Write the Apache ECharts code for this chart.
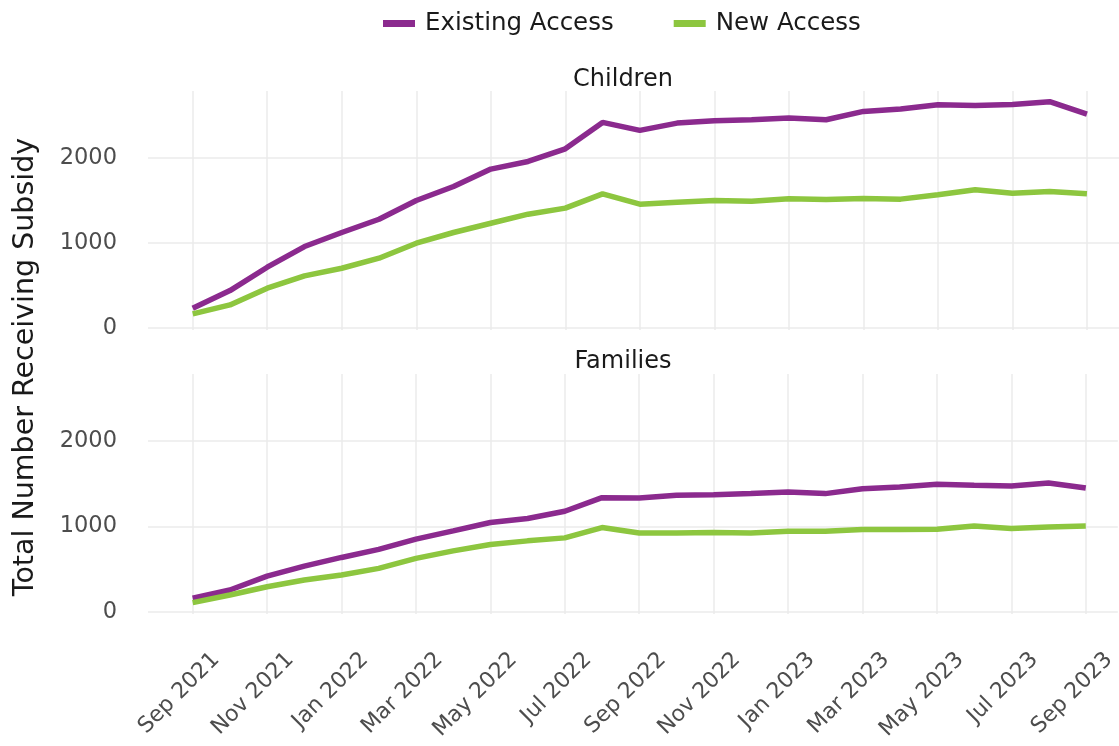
<!DOCTYPE html>
<html>
<head>
<meta charset="utf-8">
<script src="https://cdn.jsdelivr.net/npm/echarts@6/dist/echarts.min.js"></script>
<style>
  html, body { margin: 0; padding: 0; background: #fff; }
  #main { width: 1119px; height: 746px; }
</style>
</head>
<body>
<div id="main"></div>
<script>
// monthly, Sep 2021 .. Sep 2023
const months = ['Sep 2021','Oct 2021','Nov 2021','Dec 2021','Jan 2022','Feb 2022','Mar 2022','Apr 2022',
    'May 2022','Jun 2022','Jul 2022','Aug 2022','Sep 2022','Oct 2022','Nov 2022','Dec 2022',
    'Jan 2023','Feb 2023','Mar 2023','Apr 2023','May 2023','Jun 2023','Jul 2023','Aug 2023','Sep 2023'];

const childrenExisting = [232, 439, 714, 957, 1122, 1278, 1498, 1663, 1867, 1957, 2106, 2416, 2322,
    2408, 2435, 2447, 2467, 2447, 2545, 2573, 2624, 2616, 2627, 2659, 2514];
const childrenNew = [165, 271, 467, 612, 702, 820, 996, 1122, 1231, 1337, 1408, 1576, 1455,
    1478, 1498, 1490, 1518, 1510, 1522, 1514, 1565, 1624, 1584, 1604, 1576];

const familiesExisting = [160, 257, 420, 537, 638, 732, 852, 949, 1047, 1093, 1179, 1338, 1334,
    1365, 1373, 1385, 1404, 1385, 1443, 1462, 1494, 1482, 1474, 1509, 1450];
const familiesNew = [109, 198, 295, 373, 432, 510, 627, 715, 790, 832, 867, 988, 925,
    925, 930, 925, 945, 945, 965, 965, 968, 1007, 977, 995, 1007];

const xTicks = [0, 2, 4, 6, 8, 10, 12, 14, 16, 18, 20, 22, 24];
const yTicks = [0, 1000, 2000];

const purple = '#8b2a8e';
const green = '#8dc63f';
const font = 'DejaVu Sans';

const toPairs = arr => arr.map((v, i) => [i, v]);

function xAxisFor(gridIndex, showLabels) {
    return {
        type: 'value',
        gridIndex: gridIndex,
        min: -1.2,
        max: 24.86,
        axisLine: { show: false },
        axisTick: { show: false, customValues: xTicks },
        splitLine: { show: true, lineStyle: { color: '#ebebeb', width: 1.5 } },
        axisLabel: {
            show: showLabels,
            customValues: xTicks,
            rotate: 45,
            margin: 19,
            verticalAlign: 'top',
            padding: [22, 0, 0, 0],
            fontFamily: font,
            fontSize: 22,
            color: '#4d4d4d',
            formatter: v => months[Math.round(v)] || ''
        }
    };
}

function yAxisFor(gridIndex) {
    return {
        type: 'value',
        gridIndex: gridIndex,
        min: -24,
        max: 2785,
        axisLine: { show: false },
        axisTick: { show: false, customValues: yTicks },
        splitLine: { show: true, lineStyle: { color: '#ebebeb', width: 1.5 } },
        axisLabel: {
            customValues: yTicks,
            margin: 31,
            fontFamily: font,
            fontSize: 22.5,
            color: '#4d4d4d',
            formatter: v => String(v)
        }
    };
}

function lineSeries(name, color, data, idx) {
    return {
        name: name,
        type: 'line',
        xAxisIndex: idx,
        yAxisIndex: idx,
        data: toPairs(data),
        showSymbol: false,
        lineStyle: { color: color, width: 5.5 },
        itemStyle: { color: color },
        emphasis: { disabled: true }
    };
}

const chart = echarts.init(document.getElementById('main'));
chart.setOption({
    animation: false,
    backgroundColor: '#fff',
    textStyle: { fontFamily: font },
    legend: {
        top: 6,
        left: 378,
        icon: 'rect',
        itemWidth: 32,
        itemHeight: 7,
        itemGap: 60,
        textStyle: { fontFamily: font, fontSize: 24.5, color: '#1a1a1a', padding: [0, 0, 0, 5] },
        data: ['Existing Access', 'New Access']
    },
    title: [
        { text: 'Children', left: 618, top: 63, textAlign: 'center',
          textStyle: { fontFamily: font, fontSize: 24, fontWeight: 'normal', color: '#1a1a1a' } },
        { text: 'Families', left: 618, top: 345, textAlign: 'center',
          textStyle: { fontFamily: font, fontSize: 24, fontWeight: 'normal', color: '#1a1a1a' } }
    ],
    graphic: [{
        type: 'text',
        x: 26,
        y: 367,
        rotation: Math.PI / 2,
        style: {
            text: 'Total Number Receiving Subsidy',
            font: '28.5px "DejaVu Sans"',
            fill: '#1a1a1a',
            align: 'center',
            verticalAlign: 'middle'
        }
    }],
    grid: [
        { left: 148, right: 0, top: 91, height: 239 },
        { left: 148, right: 0, top: 374, height: 240 }
    ],
    xAxis: [xAxisFor(0, false), xAxisFor(1, true)],
    yAxis: [yAxisFor(0), yAxisFor(1)],
    series: [
        lineSeries('Existing Access', purple, childrenExisting, 0),
        lineSeries('New Access', green, childrenNew, 0),
        lineSeries('Existing Access', purple, familiesExisting, 1),
        lineSeries('New Access', green, familiesNew, 1)
    ]
});
</script>
</body>
</html>
